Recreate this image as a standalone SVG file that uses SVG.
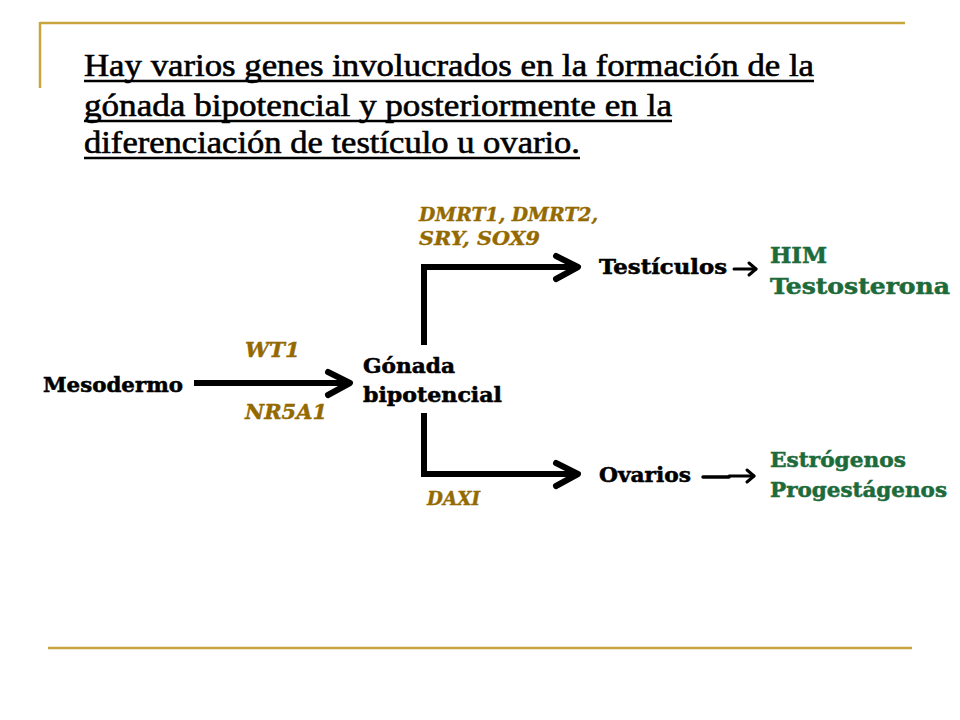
<svg xmlns="http://www.w3.org/2000/svg" width="960" height="720" viewBox="0 0 960 720">
<style>
.title{font-family:"Liberation Serif","Times New Roman",serif;font-size:31px;fill:#000;stroke:#000;stroke-width:0.6}
.lbl{font-family:"DejaVu Serif",serif;font-weight:bold;fill:#000;stroke:#000;stroke-width:0.5}
.gene{font-family:"DejaVu Serif",serif;font-weight:bold;font-style:italic;fill:#946a00;stroke:#946a00;stroke-width:0.4}
.horm{font-family:"DejaVu Serif",serif;font-weight:bold;fill:#1d6b3b;stroke:#1d6b3b;stroke-width:0.5}
.gold{stroke:#c8a43c;stroke-width:2.5;fill:none}
.ul{stroke:#000;stroke-width:2.5}
.thick{stroke:#000;stroke-width:6;fill:none;stroke-linecap:butt;stroke-linejoin:miter}
.chev{stroke:#000;stroke-width:6;fill:none;stroke-linecap:round;stroke-linejoin:round}
.thin{stroke:#000;stroke-width:3;fill:none;stroke-linecap:round;stroke-linejoin:round}
</style>
<rect width="960" height="720" fill="#fff"/>
<g id="frame">
<line class="gold" x1="40" y1="23" x2="905" y2="23"/>
<line class="gold" x1="40" y1="22" x2="40" y2="88"/>
<line class="gold" x1="48" y1="648" x2="912" y2="648"/>
</g>
<g id="title">
<text class="title" x="84" y="75.5" textLength="730" lengthAdjust="spacingAndGlyphs">Hay varios genes involucrados  en la formación  de la</text>
<line class="ul" x1="84" y1="81" x2="814" y2="81"/>
<text class="title" x="84" y="115.5" textLength="588" lengthAdjust="spacingAndGlyphs">gónada bipotencial  y posteriormente  en la</text>
<line class="ul" x1="84" y1="121" x2="672" y2="121"/>
<text class="title" x="84" y="152.5" textLength="496" lengthAdjust="spacingAndGlyphs">diferenciación  de testículo u ovario.</text>
<line class="ul" x1="84" y1="158" x2="580" y2="158"/>
</g>
<g id="connectors">
<line class="thick" x1="194" y1="383" x2="348" y2="383"/>
<polyline class="chev" points="328,372 350,383 328,395"/>
<polyline class="thick" points="424,345 424,267 576,267"/>
<polyline class="chev" points="556,256 578,267 556,279"/>
<polyline class="thick" points="424,413 424,474 576,474"/>
<polyline class="chev" points="556,463 578,474 556,486"/>
<line class="thin" x1="734" y1="269" x2="756" y2="269"/>
<polyline class="thin" points="749,263 756,269 749,275"/>
<line class="thin" x1="703" y1="477" x2="729" y2="477" style="stroke-width:3.5"/>
<line class="thin" x1="729" y1="476" x2="754" y2="476"/>
<polyline class="thin" points="747,470 754,476 747,482"/>
</g>
<g id="mesodermo"><text class="lbl" x="43" y="392" font-size="20" textLength="140" lengthAdjust="spacingAndGlyphs">Mesodermo</text></g>
<g id="wt1-nr5a1">
<text class="gene" x="245" y="357" font-size="20.5" textLength="55" lengthAdjust="spacingAndGlyphs">WT1</text>
<text class="gene" x="245" y="419" font-size="20.5" textLength="82" lengthAdjust="spacingAndGlyphs">NR5A1</text>
</g>
<g id="gonada">
<text class="lbl" x="363" y="373" font-size="19.5" textLength="92" lengthAdjust="spacingAndGlyphs">Gónada</text>
<text class="lbl" x="363" y="402" font-size="19.5" textLength="139" lengthAdjust="spacingAndGlyphs">bipotencial</text>
</g>
<g id="genes-testis">
<text class="gene" x="419" y="221" font-size="19" textLength="179" lengthAdjust="spacingAndGlyphs">DMRT1, DMRT2,</text>
<text class="gene" x="419" y="245" font-size="19" textLength="121" lengthAdjust="spacingAndGlyphs">SRY, SOX9</text>
</g>
<g id="genes-ovary"><text class="gene" x="427" y="505" font-size="18" textLength="53" lengthAdjust="spacingAndGlyphs">DAXI</text></g>
<g id="testiculos"><text class="lbl" x="599" y="274" font-size="19.5" textLength="128" lengthAdjust="spacingAndGlyphs">Testículos</text></g>
<g id="ovarios"><text class="lbl" x="599" y="482" font-size="19.5" textLength="92" lengthAdjust="spacingAndGlyphs">Ovarios</text></g>
<g id="hormonas-testis">
<text class="horm" x="770" y="263" font-size="21.5" textLength="57" lengthAdjust="spacingAndGlyphs">HIM</text>
<text class="horm" x="770" y="294" font-size="21.5" textLength="180" lengthAdjust="spacingAndGlyphs">Testosterona</text>
</g>
<g id="hormonas-ovary">
<text class="horm" x="770" y="467" font-size="20" textLength="136" lengthAdjust="spacingAndGlyphs">Estrógenos</text>
<text class="horm" x="770" y="497" font-size="20" textLength="177" lengthAdjust="spacingAndGlyphs">Progestágenos</text>
</g>
</svg>
